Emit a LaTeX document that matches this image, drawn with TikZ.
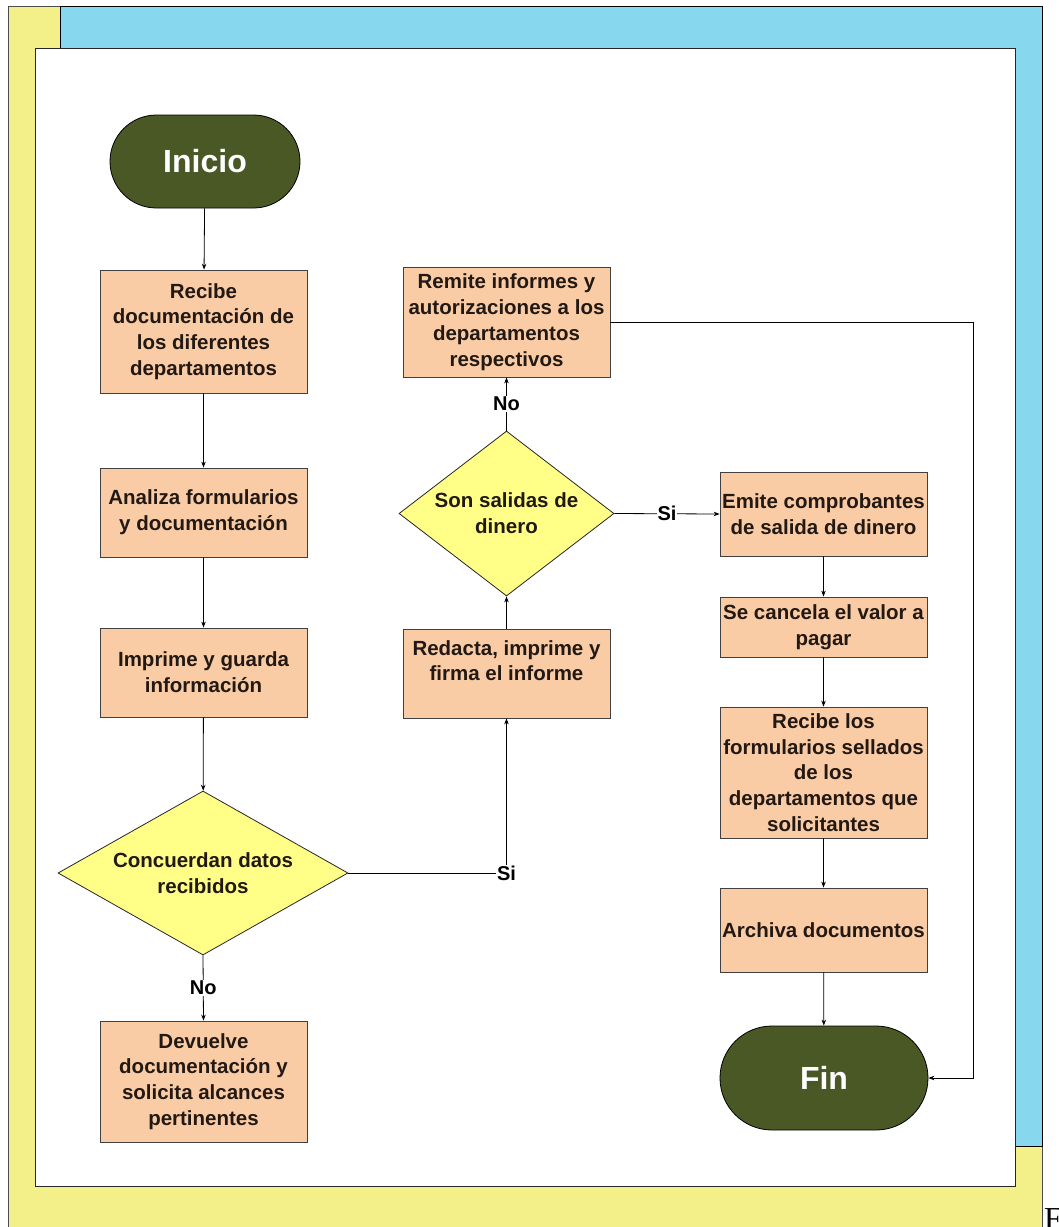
\documentclass[tikz,border=0pt]{standalone}
\usepackage{fontspec}
\setmainfont{Liberation Sans}
\newfontfamily\notefont{Liberation Serif}
\usetikzlibrary{shapes.geometric,arrows.meta}

\definecolor{pillgreen}{RGB}{74,88,38}
\definecolor{boxpeach}{RGB}{250,204,166}
\definecolor{decyellow}{RGB}{255,255,136}
\definecolor{bgyellow}{RGB}{243,240,138}
\definecolor{bgblue}{RGB}{135,215,239}
\definecolor{txtdark}{RGB}{35,25,20}

\begin{document}
\begin{tikzpicture}[x=1pt,y=-1pt,
  every node/.style={font=\bfseries\fontsize{20.5}{25.8}\selectfont, text=txtdark},
  procbox/.style={rectangle, draw=black!75, fill=boxpeach, minimum width=207pt,
    inner sep=0pt, align=center, line width=0.8pt},
  decbox/.style={diamond, draw=black!85, fill=decyellow, inner sep=0pt, line width=0.8pt},
  dectext/.style={align=center, inner sep=0pt},
  pill/.style={rectangle, draw=black, fill=pillgreen, inner sep=0pt, line width=0.8pt,
    text=white, font=\bfseries\fontsize{32}{36}\selectfont},
  conn/.style={draw=black, line width=0.8pt, -{Stealth[length=6pt,width=4.5pt]}},
  plainline/.style={draw=black, line width=0.8pt},
  lbl/.style={fill=white, inner sep=1pt, text=black, font=\bfseries\fontsize{20}{24}\selectfont}
]
\useasboundingbox (0,0) rectangle (1059,1227);

% page frame
\fill[bgyellow] (8,6) rectangle (1042,1240);
\draw[black!70, line width=0.8pt] (8,1240) -- (8,6) -- (1042,6) -- (1042,1240);
\filldraw[fill=bgblue, draw=black, line width=0.8pt] (60,6) rectangle (1042,1146);
\filldraw[fill=white, draw=black!85, line width=0.8pt] (35,48) rectangle (1015,1186);
\node[anchor=base west, inner sep=0pt, text=black, font=\notefont\fontsize{32}{36}\selectfont] (fnote) at (1044,1229) {F};

% left column
\node[pill, minimum width=190pt, minimum height=93pt, rounded corners=46.5pt] (ini) at (205,161.5) {Inicio};
\node[procbox, minimum height=123pt] (b1) at (203.5,331.5) {Recibe\\documentación de\\los diferentes\\departamentos};
\node[procbox, minimum height=89pt] (b2) at (203.5,512.5) {Analiza formularios\\y documentación};
\node[procbox, minimum height=89pt] (b3) at (203.5,672.5) {Imprime y guarda\\información};
\node[decbox, minimum width=290pt, minimum height=164pt] (d1) at (203,873) {};
\node[dectext] (d1t) at (d1) {Concuerdan datos\\recibidos};
\node[procbox, minimum height=121pt] (b4) at (203.5,1081.5) {Devuelve\\documentación y\\solicita alcances\\pertinentes};

% middle column
\node[procbox, minimum height=89pt] (b5) at (506.5,673.5) {Redacta, imprime y\\firma el informe\\\mbox{}};
\node[decbox, minimum width=215pt, minimum height=165pt] (d2) at (506.5,513.5) {};
\node[dectext] (d2t) at (d2) {Son salidas de\\dinero};
\node[procbox, minimum height=110pt] (b6) at (506.5,322) {Remite informes y\\autorizaciones a los\\departamentos\\respectivos};

% right column
\node[procbox, minimum height=84pt] (b7) at (823.5,514) {Emite comprobantes\\de salida de dinero};
\node[procbox, minimum height=60pt] (b8) at (823.5,627) {Se cancela el valor a\\pagar};
\node[procbox, minimum height=131pt] (b9) at (823.5,772.5) {Recibe los\\formularios sellados\\de los\\departamentos que\\solicitantes};
\node[procbox, minimum height=84pt] (b10) at (823.5,930) {Archiva documentos};
\node[pill, minimum width=208pt, minimum height=104pt, rounded corners=52pt] (fin) at (824,1078) {Fin};

% connectors
\draw[conn] (ini) -- (b1);
\draw[conn] (b1) -- (b2);
\draw[conn] (b2) -- (b3);
\draw[conn] (b3) -- (d1);
\draw[conn] (d1.south) -- node[lbl] {No} (b4.north);
\draw[conn] (d1.east) -| node[lbl, pos=0.5] {Si} (b5.south);
\draw[conn] (b5.north) -- (d2.south);
\draw[conn] (d2.north) -- node[lbl] {No} (b6.south);
\draw[conn] (d2.east) -- node[lbl] {Si} (b7.west);
\draw[conn] (b7) -- (b8);
\draw[conn] (b8) -- (b9);
\draw[conn] (b9) -- (b10);
\draw[conn] (b10) -- (fin);
\coordinate (rt) at (973,322);
\draw[conn] (b6.east) -- (rt) |- (fin.east);
\end{tikzpicture}
\end{document}
